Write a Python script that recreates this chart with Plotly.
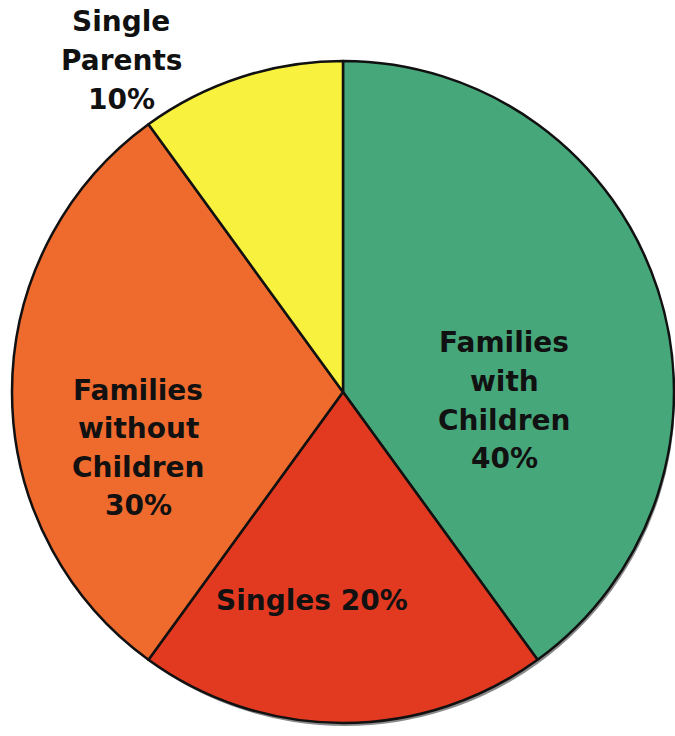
import plotly.graph_objects as go

categories = ["Families with Children", "Singles", "Families without Children", "Single Parents"]
values = [40, 20, 30, 10]
label_lines = [
    ["Families", "with", "Children", "40%"],
    ["Singles 20%"],
    ["Families", "without", "Children", "30%"],
    ["Single", "Parents", "10%"],
]
colors = ["#46A77A", "#E23A21", "#EF6A2D", "#F8F23F"]
label_pos = [(504, 343), (312, 600), (138, 390), (121, 22)]  # first-line centre (px)
LINE_STEP = 38.5

W, H = 675, 736
cx, cy, r = 343, 392, 331
fig = go.Figure()
# soft drop shadow
fig.add_trace(go.Pie(
    labels=categories, values=values, sort=False, direction="clockwise",
    marker=dict(colors=["#8a8a8a"] * 4, line=dict(width=0)),
    textinfo="none", hoverinfo="skip", showlegend=False,
    domain=dict(x=[(cx - r + 3) / W, min(1, (cx + r + 3) / W)], y=[(H - (cy + r) - 4) / H, (H - (cy - r) - 4) / H]),
))
fig.add_trace(go.Pie(
    labels=categories, values=values, sort=False, direction="clockwise",
    marker=dict(colors=colors, line=dict(color="#111111", width=2.5)),
    textinfo="none", showlegend=False,
    domain=dict(x=[(cx - r) / W, (cx + r) / W], y=[(H - (cy + r)) / H, (H - (cy - r)) / H]),
))
for lines, (px, py) in zip(label_lines, label_pos):
    for i, ln in enumerate(lines):
        fig.add_annotation(text="<b>" + ln + "</b>", x=px / W, y=1 - (py + i * LINE_STEP) / H,
                           xref="paper", yref="paper",
                           xanchor="center", yanchor="middle", showarrow=False,
                           font=dict(family="DejaVu Sans", size=28, color="#111111"))
fig.update_layout(width=W, height=H, margin=dict(l=0, r=0, t=0, b=0),
                  paper_bgcolor="white", plot_bgcolor="white")
fig.write_html("out.html")
